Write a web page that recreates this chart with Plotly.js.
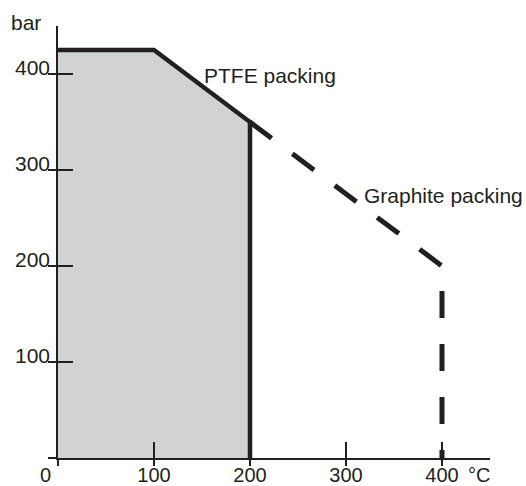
<!DOCTYPE html>
<html>
<head>
<meta charset="utf-8">
<script src="https://cdn.plot.ly/plotly-3.0.1.min.js"></script>
<style>html,body{margin:0;padding:0;background:#fff;}#chart{width:526px;height:486px;}</style>
</head>
<body>
<div id="chart"></div>
<script>
// Temperature (°C) vs pressure (bar)
const ptfeTemp = [0, 100, 200, 200];
const ptfePress = [425, 425, 350, 0];
const fillTemp = [0, 0, 100, 200, 200];
const fillPress = [0, 425, 425, 350, 0];
const graphiteTemp = [200, 400, 400];
const graphitePress = [350, 200, 0];
const xTicks = [0, 100, 200, 300, 400];
const xTickText = ['', '100', '200', '300', '400'];
const yTicks = [0, 100, 200, 300, 400];
const yTickText = ['', '100', '200', '300', '400'];
const ptfeLabel = 'PTFE packing';
const graphiteLabel = 'Graphite packing';

const ink = '#231f20';
const fontFam = 'Liberation Sans, Arial, Helvetica, sans-serif';

const traces = [
  {x: fillTemp, y: fillPress, type: 'scatter', mode: 'none', fill: 'toself',
   fillcolor: '#d1d2d4', hoverinfo: 'skip', showlegend: false},
  {x: graphiteTemp, y: graphitePress, type: 'scatter', mode: 'lines',
   line: {color: ink, width: 5, dash: '27px,26px'}, hoverinfo: 'skip', showlegend: false},
  {x: ptfeTemp, y: ptfePress, type: 'scatter', mode: 'lines',
   line: {color: ink, width: 4.5}, hoverinfo: 'skip', showlegend: false},
  {x: [xTicks[0]], y: [yTicks[0]], xaxis: 'x2', yaxis: 'y2', type: 'scatter', mode: 'markers',
   marker: {opacity: 0}, hoverinfo: 'skip', showlegend: false}
];

const axFont = {family: fontFam, size: 21, color: ink};
const xFont = {family: fontFam, size: 20, color: ink};
const layout = {
  width: 526, height: 486,
  margin: {l: 58, r: 36, t: 26, b: 28},
  paper_bgcolor: '#fff', plot_bgcolor: 'rgba(0,0,0,0)',
  showlegend: false,
  font: axFont,
  xaxis: {range: [0, 450], showgrid: false, zeroline: false, showline: true,
    linecolor: ink, linewidth: 2, ticks: 'outside', ticklen: 6, tickwidth: 2.5, tickcolor: ink,
    tickmode: 'array', tickvals: xTicks, showticklabels: false, fixedrange: true},
  yaxis: {range: [0, 450], showgrid: false, zeroline: false, showline: true,
    linecolor: ink, linewidth: 2, ticks: 'outside', ticklen: 8, tickwidth: 2.5, tickcolor: ink,
    tickmode: 'array', tickvals: yTicks, showticklabels: false, fixedrange: true},
  xaxis2: {overlaying: 'x', range: [0, 450], showgrid: false, zeroline: false, showline: false,
    ticks: 'inside', ticklen: 16, tickwidth: 2.5, tickcolor: ink, tickmode: 'array',
    tickvals: xTicks, ticktext: xTickText, tickfont: xFont, ticklabelstandoff: 3, fixedrange: true},
  yaxis2: {overlaying: 'y', range: [0, 450], showgrid: false, zeroline: false, showline: false,
    ticks: 'inside', ticklen: 15, tickwidth: 2.5, tickcolor: ink, tickmode: 'array',
    tickvals: yTicks, ticktext: yTickText, tickfont: axFont, ticklabelstandoff: 7,
    ticklabelshift: -6, fixedrange: true},
  annotations: [
    {text: 'bar', xref: 'paper', yref: 'paper', x: -0.073, y: 1.008, xanchor: 'center', yanchor: 'middle',
     showarrow: false, font: axFont},
    {text: '0', xref: 'paper', yref: 'paper', x: -0.03, y: -0.04, xanchor: 'center', yanchor: 'middle',
     showarrow: false, font: xFont, borderpad: 0},
    {text: '°C', xref: 'paper', yref: 'paper', x: 0.975, y: -0.04, xanchor: 'center', yanchor: 'middle',
     showarrow: false, font: xFont, borderpad: 0},
    {text: ptfeLabel, xref: 'x', yref: 'y', x: 150, y: 398, xanchor: 'left', yanchor: 'middle',
     showarrow: false, font: axFont},
    {text: graphiteLabel, xref: 'x', yref: 'y', x: 317, y: 273, xanchor: 'left', yanchor: 'middle',
     showarrow: false, font: axFont}
  ]
};

Plotly.newPlot('chart', traces, layout, {displayModeBar: false, staticPlot: true});
</script>
</body>
</html>
